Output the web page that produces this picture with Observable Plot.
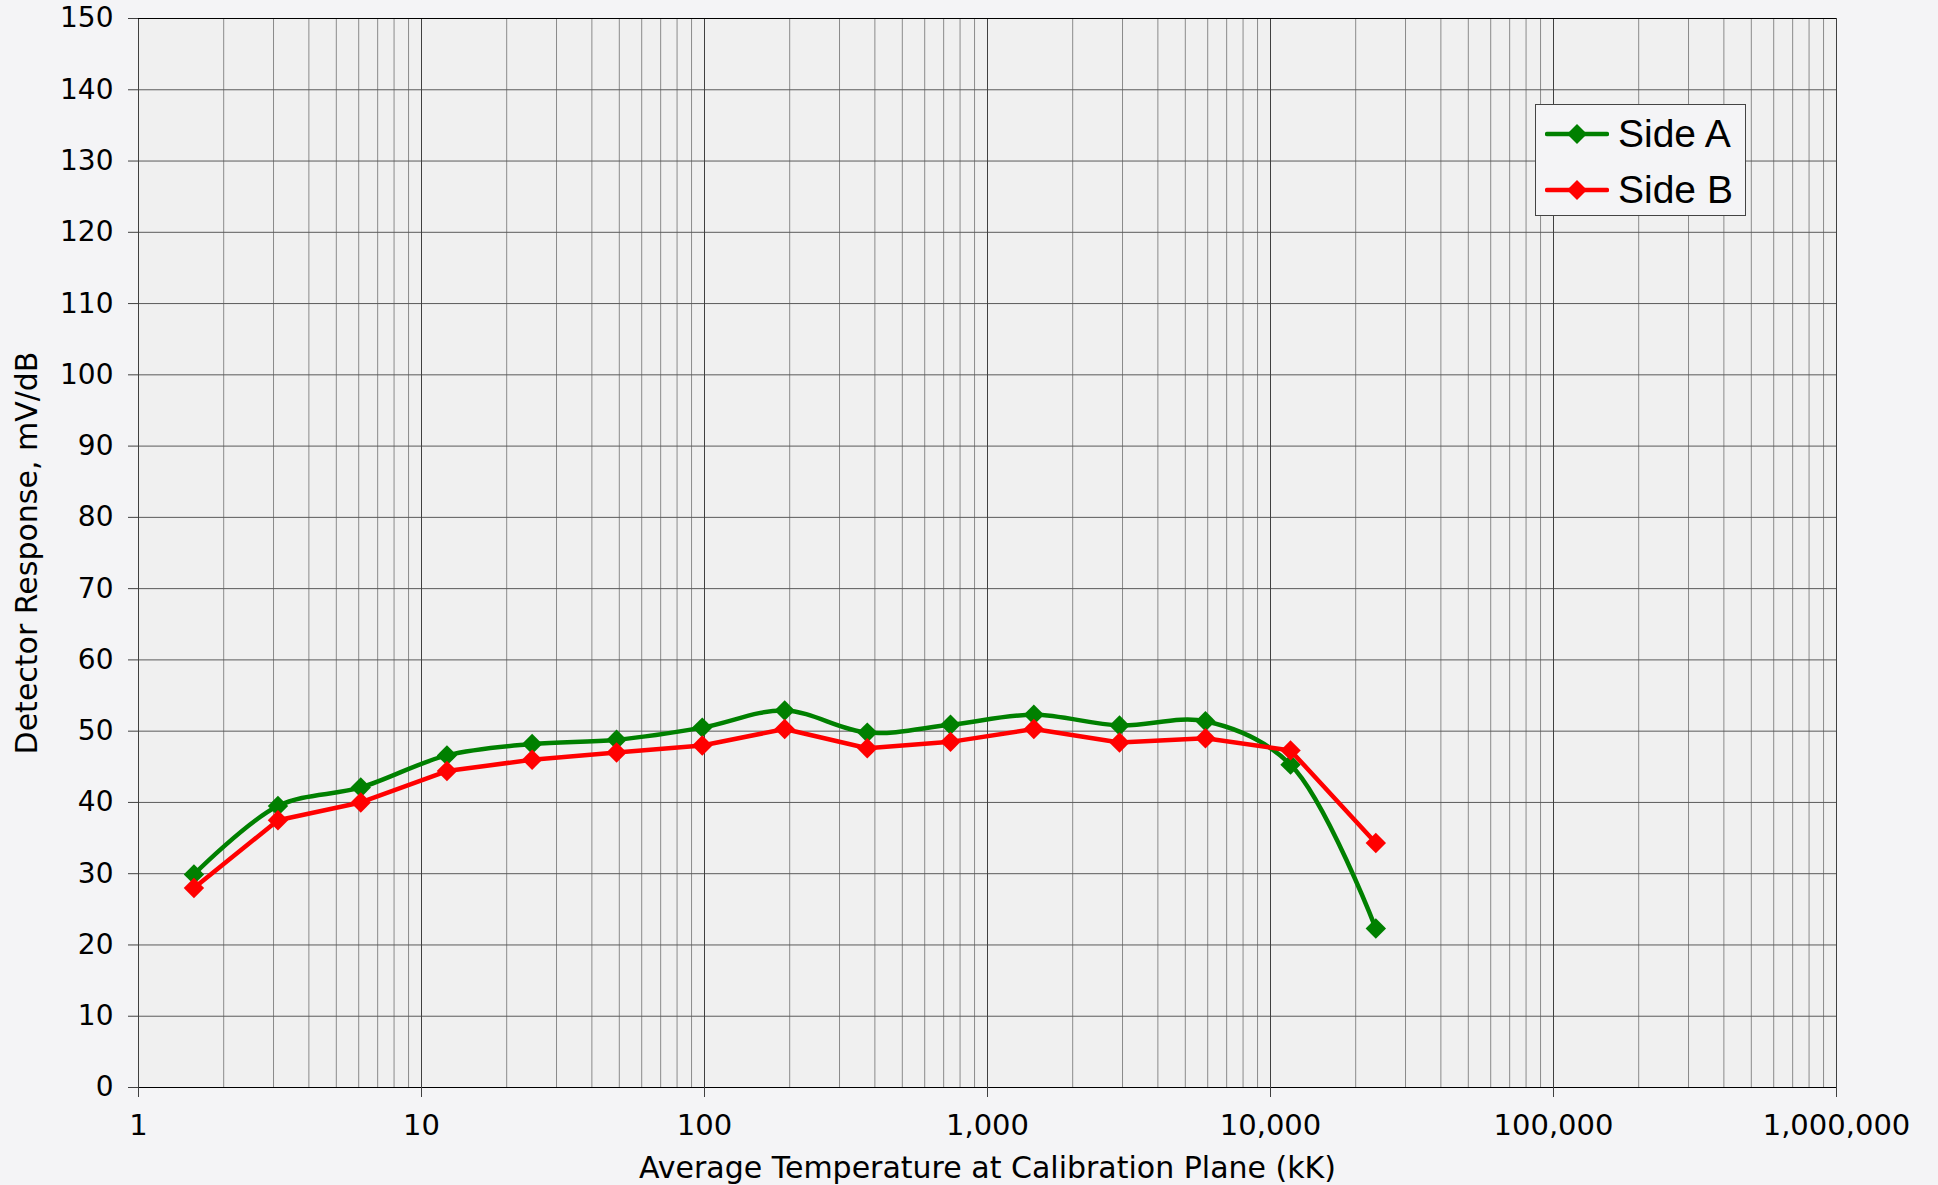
<!DOCTYPE html>
<html>
<head>
<meta charset="utf-8">
<script src="https://cdn.jsdelivr.net/npm/d3@7"></script>
<script src="https://cdn.jsdelivr.net/npm/@observablehq/plot@0.6"></script>
<style>
  html, body { margin: 0; padding: 0; background: #f4f4f6; }
  #wrap { position: relative; width: 1938px; height: 1185px; }
  #legend {
    position: absolute; left: 1535px; top: 104px; width: 211px; height: 112px;
    border: 1px solid #444; background: #f4f4f6; box-sizing: border-box;
    font-family: "Liberation Sans", Arial, sans-serif; font-size: 39px; color: #000;
  }
  .item { position: absolute; left: 0; height: 44px; display: flex; align-items: center; }
  .item svg { margin-left: 9px; margin-right: 9px; }
</style>
</head>
<body>
<div id="wrap">
  <div id="chart"></div>
  <div id="legend"></div>
</div>
<script>
// ---- data ----
const temps = [1.57, 3.11, 6.1, 12.3, 24.6, 48.9, 98.2, 192, 376, 740, 1458, 2927, 5890, 11770, 23560];
const sideA = [29.9, 39.5, 42.1, 46.6, 48.2, 48.8, 50.5, 52.9, 49.8, 50.9, 52.3, 50.8, 51.4, 45.3, 22.3];
const sideB = [28.0, 37.5, 40.0, 44.4, 46.0, 47.0, 48.0, 50.3, 47.6, 48.5, 50.3, 48.4, 49.0, 47.3, 34.3];
const seriesNames = ["Side A", "Side B"];
const seriesColors = ["#008000", "#ff0000"];
const xTicks = [1, 10, 100, 1000, 10000, 100000, 1000000];
const yTicks = [0, 10, 20, 30, 40, 50, 60, 70, 80, 90, 100, 110, 120, 130, 140, 150];
const xTitle = "Average Temperature at Calibration Plane (kK)";
const yTitle = "Detector Response, mV/dB";

// minor log grid values (2..9 of each decade)
const xMinor = [];
for (let k = 0; k < 6; k++) for (let m = 2; m <= 9; m++) xMinor.push(m * Math.pow(10, k));

const dataA = temps.map((t, i) => ({t, v: sideA[i]}));
const dataB = temps.map((t, i) => ({t, v: sideB[i]}));

const chart = Plot.plot({
  width: 1938,
  height: 1185,
  marginLeft: 138,
  marginRight: 102,
  marginTop: 18,
  marginBottom: 98,
  style: {background: "#f4f4f6", fontFamily: "'DejaVu Sans', Verdana, sans-serif", fontSize: "28px", color: "#000"},
  x: {type: "log", domain: [1, 1000000]},
  y: {domain: [0, 150]},
  marks: [
    Plot.frame({fill: "#f0f0f0", stroke: null}),
    Plot.ruleX(xMinor, {stroke: "#8a8a8a", strokeWidth: 1}),
    Plot.ruleY(yTicks, {stroke: "#5a5a5a", strokeWidth: 1}),
    Plot.ruleX(xTicks, {stroke: "#404040", strokeWidth: 1}),
    Plot.ruleY([0], {stroke: "#000", strokeWidth: 1.2}),
    Plot.ruleY([150], {stroke: "#000", strokeWidth: 1}),
    Plot.axisX({ticks: xTicks, tickFormat: d3.format(","), tickSize: 10, tickPadding: 17, fontSize: 29, label: null, stroke: "#404040"}),
    Plot.axisY({ticks: yTicks, tickSize: 10, tickPadding: 15, fontSize: 28, label: null, stroke: "#404040"}),
    Plot.text([xTitle], {frameAnchor: "bottom", dy: 90, lineAnchor: "bottom", fontSize: 30, fill: "#000"}),
    Plot.text([yTitle], {frameAnchor: "left", dx: -111, rotate: -90, textAnchor: "middle", fontSize: 30, fill: "#000"}),
    Plot.line(dataA, {x: "t", y: "v", stroke: seriesColors[0], strokeWidth: 4.5, curve: "catmull-rom"}),
    Plot.dot(dataA, {x: "t", y: "v", symbol: "diamond2", r: 9.2, fill: seriesColors[0], stroke: null}),
    Plot.line(dataB, {x: "t", y: "v", stroke: seriesColors[1], strokeWidth: 4.5}),
    Plot.dot(dataB, {x: "t", y: "v", symbol: "diamond2", r: 9.2, fill: seriesColors[1], stroke: null})
  ]
});
document.getElementById("chart").appendChild(chart);

// legend
const legend = document.getElementById("legend");
seriesNames.forEach((name, i) => {
  const item = document.createElement("div");
  item.className = "item";
  item.style.top = (7 + i * 56) + "px";
  item.innerHTML = `<svg width="64" height="24" viewBox="0 0 64 24">
      <line x1="2" y1="12" x2="62" y2="12" stroke="${seriesColors[i]}" stroke-width="4.5" stroke-linecap="round"/>
      <path d="M32,2 L42,12 L32,22 L22,12 Z" fill="${seriesColors[i]}"/>
    </svg><span>${name}</span>`;
  legend.appendChild(item);
});
</script>
</body>
</html>
